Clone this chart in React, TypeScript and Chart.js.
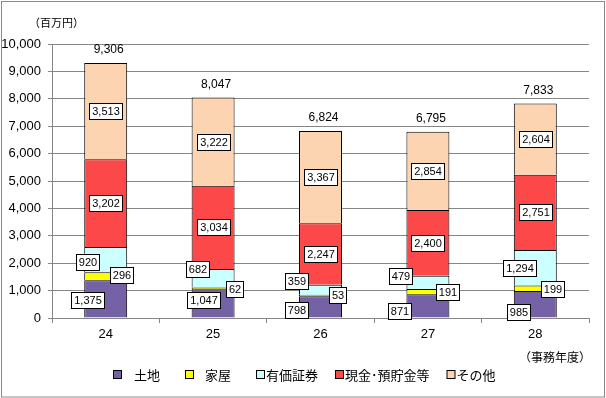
import React, { useEffect, useRef } from "react";
import { Chart, registerables } from "chart.js";

Chart.register(...registerables);

const years = ["24", "25", "26", "27", "28"];
const land = [1375, 1047, 798, 871, 985];
const house = [296, 62, 53, 191, 199];
const securities = [920, 682, 359, 479, 1294];
const cash = [3202, 3034, 2247, 2400, 2751];
const other = [3513, 3222, 3367, 2854, 2604];
const totals = [9306, 8047, 6824, 6795, 7833];
const seriesNames = ["土地", "家屋", "有価証券", "現金･預貯金等", "その他"];
const yTicks = [0, 1000, 2000, 3000, 4000, 5000, 6000, 7000, 8000, 9000, 10000];

const colors = ["#7562a6", "#ffff00", "#ccffff", "#fc4848", "#fcd4b2"];

// label offsets (pixels) relative to segment center, per series
const labelDx = [
  [-18, -10, -24, -28, -17],
  [16, 21, 17, 20, 17],
  [-18, -16, -24, -27, -16],
  [0, 0, 0, 0, 0],
  [0, 0, 0, 0, 0],
];
const labelDy = [
  [1, -3, 3, 5, 8],
  [-1, 1, 0, 0, 1],
  [2, -9, -9, -6, 0],
  [0, 0, 0, 0, 0],
  [0, 0, 0, 0, 0],
];

const legendBoxGap = [12, 11, 1, 1, 1];
const legendItemGap = [25, 25, 17, 17, 0];

const NUM_FONT = "'Liberation Sans', Arial, sans-serif";
const JP_FONT = "'Noto Sans CJK JP', sans-serif";

const fmt = (v: number) => v.toLocaleString("en-US");

const overlayPlugin = {
  id: "overlay",
  afterDatasetsDraw(chart: any) {
    const ctx = chart.ctx;
    ctx.save();
    ctx.font = `11px ${NUM_FONT}`;
    ctx.textAlign = "center";
    ctx.textBaseline = "middle";
    chart.data.datasets.forEach((ds: any, di: number) => {
      const meta = chart.getDatasetMeta(di);
      meta.data.forEach((el: any, i: number) => {
        const v = ds.data[i];
        const txt = fmt(v);
        const cx = el.x + labelDx[di][i];
        const cy = (el.y + el.base) / 2 + labelDy[di][i];
        const w = Math.round(ctx.measureText(txt).width + 5);
        const h = 16;
        const x0 = Math.round(cx - w / 2) + 0.5;
        const y0 = Math.round(cy - h / 2) + 0.5;
        ctx.fillStyle = "#fff";
        ctx.fillRect(x0, y0, w, h);
        ctx.strokeStyle = "#000";
        ctx.lineWidth = 1;
        ctx.strokeRect(x0, y0, w, h);
        ctx.fillStyle = "#000";
        ctx.fillText(txt, x0 + w / 2, y0 + h / 2 + 0.5);
      });
    });
    const topMeta = chart.getDatasetMeta(chart.data.datasets.length - 1);
    ctx.font = `12px ${NUM_FONT}`;
    topMeta.data.forEach((el: any, i: number) => {
      ctx.fillStyle = "#000";
      ctx.fillText(fmt(totals[i]), el.x + 3, el.y - 13);
    });
    ctx.restore();
  },
  afterDraw(chart: any) {
    const ctx = chart.ctx;
    const area = chart.chartArea;
    ctx.save();
    ctx.fillStyle = "#000";
    ctx.font = `11px ${JP_FONT}`;
    ctx.textBaseline = "middle";
    ctx.textAlign = "left";
    ctx.fillText("（百万円）", 29, 23);
    ctx.font = `12px ${JP_FONT}`;
    ctx.textAlign = "right";
    ctx.fillText("（事務年度）", area.right + 2, 357);
    ctx.font = `13px ${JP_FONT}`;
    ctx.textAlign = "left";
    let x = 113;
    const ly = 375;
    seriesNames.forEach((name, i) => {
      ctx.fillStyle = colors[i];
      ctx.fillRect(x + 0.5, ly - 4.5, 8, 8);
      ctx.strokeStyle = "#000";
      ctx.lineWidth = 1;
      ctx.strokeRect(x + 0.5, ly - 4.5, 8, 8);
      const tx = x + 9 + legendBoxGap[i];
      ctx.fillStyle = "#000";
      ctx.fillText(name, tx, ly);
      x = tx + ctx.measureText(name).width + legendItemGap[i];
    });
    ctx.strokeStyle = "#8a8a8a";
    ctx.lineWidth = 1;
    ctx.strokeRect(1.5, 1.5, chart.width - 3, chart.height - 2.5);
    ctx.restore();
  },
};

export default function App() {
  const ref = useRef<HTMLCanvasElement>(null);
  useEffect(() => {
    document.body.style.margin = "0";
    const canvas = ref.current!;
    const datasetsSrc = [land, house, securities, cash, other];
    const chart = new Chart(canvas, {
      type: "bar",
      data: {
        labels: years,
        datasets: datasetsSrc.map((d, i) => ({
          label: seriesNames[i],
          data: d,
          backgroundColor: colors[i],
          borderColor: "#000",
          borderWidth: 1,
          borderSkipped: "bottom",
          categoryPercentage: 1,
          barPercentage: 0.4,
        })),
      },
      options: {
        responsive: false,
        animation: false,
        devicePixelRatio: 1,
        layout: { padding: { left: 0, top: 44, right: 17, bottom: 0 } },
        plugins: {
          legend: { display: false },
          tooltip: { enabled: false },
          title: { display: false },
        },
        scales: {
          x: {
            stacked: true,
            afterFit: (s: any) => {
              s.height = 80;
            },
            grid: {
              offset: true,
              drawOnChartArea: false,
              drawTicks: true,
              tickLength: 5,
              color: "#868686",
            },
            border: { color: "#868686" },
            ticks: {
              padding: 4,
              color: "#000",
              font: { size: 13, family: NUM_FONT },
            },
          },
          y: {
            stacked: true,
            min: 0,
            max: 10000,
            afterFit: (s: any) => {
              s.width = 52;
            },
            afterBuildTicks: (s: any) => {
              s.ticks = yTicks.map((v) => ({ value: v }));
            },
            grid: {
              color: "#868686",
              tickLength: 4,
              drawTicks: true,
            },
            border: { color: "#868686" },
            ticks: {
              padding: 7,
              color: "#000",
              font: { size: 13, family: NUM_FONT },
              callback: (v: any) => fmt(Number(v)),
            },
          },
        },
      },
      plugins: [overlayPlugin],
    });
    return () => chart.destroy();
  }, []);
  return (
    <div style={{ width: 606, height: 398, background: "#fff" }}>
      <canvas ref={ref} width={606} height={398} style={{ display: "block" }} />
    </div>
  );
}
